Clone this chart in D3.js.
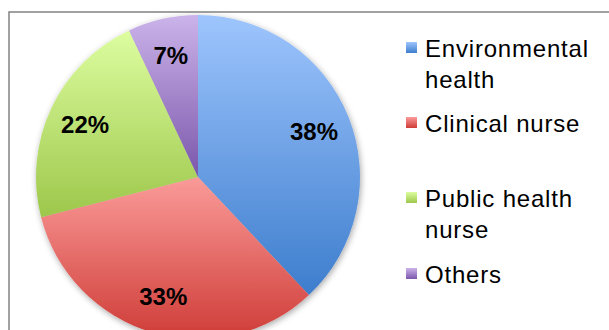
<!DOCTYPE html>
<html>
<head>
<meta charset="utf-8">
<script src="https://cdn.jsdelivr.net/npm/d3@7/dist/d3.min.js"></script>
<style>
  html, body { margin: 0; padding: 0; background: #fff; }
  svg { display: block; }
  text { font-family: "Liberation Sans", Arial, sans-serif; fill: #000; }
</style>
</head>
<body>
<svg id="chart" width="609" height="330"></svg>
<script>
// Share of respondents by profession (percent)
const categories = ["Environmental health", "Clinical nurse", "Public health nurse", "Others"];
const values = [38, 33, 22, 7];
// Legend lines (wrapped labels)
const legendLines = [["Environmental", "health"], ["Clinical nurse"], ["Public health", "nurse"], ["Others"]];
// Gradient stops per slice: light top, dark bottom
const topColors = ["#9ec5fd", "#fa9b99", "#ddfda0", "#cbb3ea"];
const bottomColors = ["#3d7dcd", "#cf3c37", "#9dc74b", "#7b57ab"];

const svg = d3.select("#chart");
const W = 609, H = 330;

const defs = svg.append("defs");
categories.forEach((c, i) => {
  const g = defs.append("linearGradient")
    .attr("id", "grad" + i)
    .attr("x1", 0).attr("y1", 0).attr("x2", 0).attr("y2", 1);
  g.append("stop").attr("offset", "0%").attr("stop-color", topColors[i]);
  g.append("stop").attr("offset", "100%").attr("stop-color", bottomColors[i]);
});
const shadow = defs.append("filter").attr("id", "shadow")
  .attr("x", "-20%").attr("y", "-20%").attr("width", "140%").attr("height", "140%");
shadow.append("feDropShadow")
  .attr("dx", 1).attr("dy", 2).attr("stdDeviation", 3)
  .attr("flood-color", "#000").attr("flood-opacity", 0.35);

// Chart frame (runs off the right and bottom edges)
svg.append("rect")
  .attr("x", 9).attr("y", 12)
  .attr("width", W + 20).attr("height", H + 20)
  .attr("fill", "none").attr("stroke", "#8a8a8a").attr("stroke-width", 1.6);

// Pie
const cx = 198, cy = 177, R = 162;
const pie = d3.pie().sort(null).value(d => d);
const arcs = pie(values);
const arc = d3.arc().innerRadius(0).outerRadius(R);
const labelArc = d3.arc().innerRadius(R * 0.77).outerRadius(R * 0.77);

const g = svg.append("g").attr("transform", `translate(${cx},${cy})`);
g.append("g").attr("filter", "url(#shadow)")
  .selectAll("path").data(arcs).join("path")
  .attr("d", arc)
  .attr("fill", (d, i) => `url(#grad${i})`);

g.selectAll("text.pct").data(arcs).join("text")
  .attr("class", "pct")
  .attr("transform", d => `translate(${labelArc.centroid(d)})`)
  .attr("text-anchor", "middle")
  .attr("dy", "0.36em")
  .style("font-size", "24px")
  .style("font-weight", "bold")
  .text(d => d.data + "%");

// Legend
const legendBaselines = [[57, 88], [132], [207, 238], [283]];
const legend = svg.append("g");
categories.forEach((c, i) => {
  const b = legendBaselines[i][0];
  legend.append("rect")
    .attr("x", 406).attr("y", b - 15)
    .attr("width", 11).attr("height", 11)
    .attr("fill", `url(#grad${i})`);
  const t = legend.append("text")
    .attr("x", 425).attr("y", b)
    .style("font-size", "24px")
    .style("letter-spacing", "0.8px");
  legendLines[i].forEach((line, j) => {
    t.append("tspan")
      .attr("x", 425)
      .attr("y", legendBaselines[i][j])
      .text(line);
  });
});
</script>
</body>
</html>
